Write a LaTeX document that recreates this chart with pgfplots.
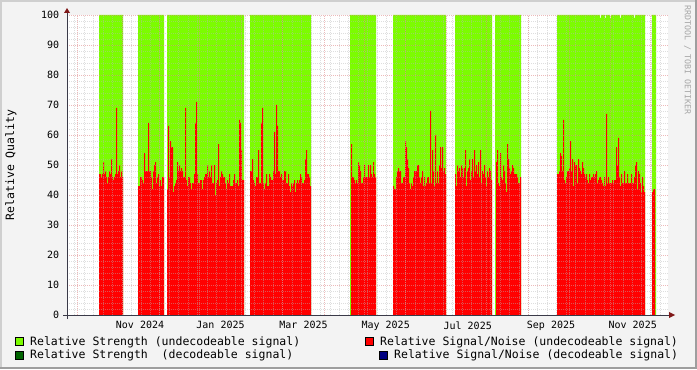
\documentclass[border=0pt]{standalone}
\usepackage{fontspec}
\setmainfont{DejaVu Sans Mono}
\usepackage{pgfplots}
\pgfplotsset{compat=1.18}
\definecolor{rrdgreen}{HTML}{7CFC00}
\definecolor{rrddkgreen}{HTML}{006400}
\definecolor{rrdred}{HTML}{FF0000}
\definecolor{rrdnavy}{HTML}{000080}
\definecolor{rrdback}{HTML}{F3F3F3}
\definecolor{shadea}{HTML}{CFCFCF}
\definecolor{shadeb}{HTML}{9E9E9E}
\definecolor{mgrid}{HTML}{E08C8C}
\definecolor{mingrid}{HTML}{B8B8B8}
\definecolor{axiscol}{HTML}{3A3A48}
\definecolor{arrowcol}{HTML}{801818}
\begin{document}
\begin{tikzpicture}[x=1bp,y=1bp]
\useasboundingbox (0,0) rectangle (697,369);
\fill[rrdback] (0,0) rectangle (697,369);
\fill[shadea] (0,367) rectangle (697,369);
\fill[shadea] (0,0) rectangle (2,369);
\fill[shadeb] (0,0) rectangle (697,2);
\fill[shadeb] (695,0) rectangle (697,369);
\begin{axis}[
  at={(67bp,54bp)}, anchor=south west, scale only axis,
  width=601bp, height=300bp,
  xmin=67, xmax=668, ymin=0, ymax=100,
  axis background/.style={fill=white},
  axis on top,
  axis line style={draw=none},
  xtick={140,220.5,303.5,385.7,467.7,551,632.7},
  xticklabels={Nov 2024,Jan 2025,Mar 2025,May 2025,Jul 2025,Sep 2025,Nov 2025},
  extra x ticks={77.3,122.3,159.3,199,241.3,282.3,324.7,364.3,405,446,486.7,528.3,569,610,650.7},
  extra x tick labels={},
  extra x tick style={grid=major},
  minor xtick={74.7,84.15,...,668},
  ytick={0,10,...,100},
  minor y tick num=4,
  ymajorgrids=true, xminorgrids=true, yminorgrids=true,
  major grid style={mgrid, opacity=0.6, line width=0.6bp, dash pattern=on 1bp off 1bp},
  minor grid style={mingrid, opacity=0.45, line width=0.6bp, dash pattern=on 1bp off 1bp},
  major tick length=0pt, minor tick length=0pt,
  tick label style={font=\fontsize{10bp}{12bp}\selectfont},
  /pgf/number format/assume math mode=true,
  xticklabel style={yshift=-3bp},
  yticklabel style={xshift=-4.4bp},
]
\addplot[const plot mark left, fill=rrdgreen, draw=none] coordinates {
(99,100)(123,0)(138,100)(164,0)(167,100)(244,0)(250,100)(311,0)(350,100)(376,0)(393,100)(446,0)(455,100)(492,0)(495,100)(521,0)(557,100)(600,99)(601,100)(605,99)(606,100)(610,99)(611,100)(620,99)(621,100)(634,99)(635,100)(645,0)(652,100)(656,0)
} \closedcycle;
\addplot[const plot mark left, fill=rrdred, draw=none] coordinates {
(99,47)(100,47)(101,46)(102,47)(103,51)(104,47)(105,48)(106,46)(107,44)(108,46)(109,48)(110,47)(111,52)(112,46)(113,45)(114,46)(115,47)(116,69)(117,47)(118,48)(119,50)(120,46)(121,48)(122,46)(123,0)
(138,43)(139,43)(140,46)(141,46)(142,45)(143,44)(144,54)(145,48)(146,48)(147,48)(148,64)(149,48)(150,48)(151,46)(152,42)(153,48)(154,50)(155,51)(156,44)(157,46)(158,47)(159,43)(160,45)(161,43)(162,46)(163,46)(164,0)
(167,42)(168,63)(169,46)(170,58)(171,56)(172,56)(173,41)(174,43)(175,44)(176,45)(177,51)(178,48)(179,50)(180,48)(181,49)(182,48)(183,46)(184,46)(185,69)(186,45)(187,43)(188,46)(189,46)(190,44)(191,42)(192,44)(193,44)(194,47)(195,64)(196,71)(197,47)(198,44)(199,44)(200,45)(201,45)(202,42)(203,45)(204,46)(205,47)(206,47)(207,50)(208,46)(209,48)(210,46)(211,50)(212,44)(213,44)(214,50)(215,40)(216,44)(217,45)(218,57)(219,43)(220,46)(221,48)(222,47)(223,46)(224,46)(225,44)(226,42)(227,45)(228,44)(229,47)(230,43)(231,43)(232,43)(233,45)(234,47)(235,44)(236,44)(237,45)(238,43)(239,65)(240,64)(241,55)(242,45)(243,45)(244,0)
(250,48)(251,48)(252,52)(253,45)(254,44)(255,43)(256,46)(257,46)(258,55)(259,44)(260,44)(261,64)(262,69)(263,44)(264,42)(265,44)(266,47)(267,43)(268,43)(269,47)(270,46)(271,45)(272,45)(273,48)(274,61)(275,47)(276,70)(277,63)(278,48)(279,48)(280,46)(281,47)(282,45)(283,45)(284,48)(285,48)(286,44)(287,44)(288,47)(289,43)(290,41)(291,44)(292,43)(293,44)(294,45)(295,41)(296,44)(297,45)(298,44)(299,45)(300,47)(301,46)(302,44)(303,44)(304,45)(305,52)(306,55)(307,47)(308,47)(309,46)(310,43)(311,0)
(351,57)(352,46)(353,46)(354,45)(355,44)(356,45)(357,44)(358,51)(359,50)(360,48)(361,44)(362,44)(363,46)(364,50)(365,46)(366,46)(367,46)(368,50)(369,46)(370,50)(371,47)(372,46)(373,51)(374,47)(375,46)(376,0)
(393,43)(394,42)(395,42)(396,46)(397,48)(398,49)(399,48)(400,48)(401,44)(402,44)(403,46)(404,46)(405,58)(406,56)(407,52)(408,49)(409,44)(410,42)(411,44)(412,43)(413,46)(414,48)(415,48)(416,48)(417,50)(418,50)(419,46)(420,44)(421,46)(422,48)(423,43)(424,46)(425,43)(426,44)(427,46)(428,46)(429,44)(430,68)(431,44)(432,55)(433,48)(434,43)(435,60)(436,44)(437,48)(438,44)(439,50)(440,56)(441,49)(442,56)(443,48)(444,49)(445,47)(446,0)
(455,47)(456,43)(457,50)(458,48)(459,49)(460,46)(461,50)(462,49)(463,46)(464,49)(465,55)(466,43)(467,48)(468,49)(469,52)(470,45)(471,48)(472,52)(473,46)(474,55)(475,48)(476,50)(477,47)(478,51)(479,46)(480,55)(481,44)(482,48)(483,47)(484,50)(485,46)(486,43)(487,48)(488,46)(489,49)(490,48)(491,45)(492,0)
(496,51)(497,55)(498,44)(499,43)(500,54)(501,46)(502,45)(503,50)(504,48)(505,44)(506,41)(507,57)(508,52)(509,49)(510,47)(511,48)(512,50)(513,49)(514,47)(515,47)(516,47)(517,46)(518,44)(519,44)(520,46)(521,0)
(557,47)(558,47)(559,48)(560,54)(561,53)(562,48)(563,65)(564,45)(565,44)(566,46)(567,48)(568,48)(569,49)(570,58)(571,48)(572,52)(573,43)(574,51)(575,50)(576,50)(577,44)(578,52)(579,49)(580,48)(581,47)(582,51)(583,49)(584,47)(585,46)(586,47)(587,45)(588,44)(589,47)(590,45)(591,46)(592,46)(593,47)(594,46)(595,47)(596,48)(597,44)(598,45)(599,46)(600,46)(601,45)(602,44)(603,43)(604,46)(605,43)(606,67)(607,44)(608,46)(609,44)(610,44)(611,44)(612,45)(613,44)(614,45)(615,45)(616,56)(617,50)(618,59)(619,46)(620,43)(621,47)(622,44)(623,44)(624,48)(625,44)(626,44)(627,47)(628,44)(629,44)(630,44)(631,47)(632,44)(633,44)(634,46)(635,50)(636,51)(637,42)(638,48)(639,47)(640,44)(641,41)(642,46)(643,43)(644,41)(645,0)
(652,41)(653,42)(654,42)(655,0)(656,0)
} \closedcycle;
\end{axis}
% axes with arrows
\draw[axiscol, line width=1bp] (63,54) -- (670,54);
\fill[arrowcol] (669,51) -- (675,54) -- (669,57) -- cycle;
\draw[axiscol, line width=1bp] (67,50) -- (67,357);
\fill[arrowcol] (64,356) -- (67,361) -- (70,356) -- cycle;
% axis title
\node[rotate=90, inner sep=0, font=\fontsize{11.5bp}{13bp}\selectfont] at (11,204) {Relative Quality};
% watermark
\node[rotate=-90, inner sep=0, text=black!35, font=\fontsize{8.3bp}{10bp}\selectfont] at (687.5,309) {RRDTOOL / TOBI OETIKER};
% legend
\filldraw[fill=rrdgreen, draw=black, line width=0.8bp] (15.5,23.5) rectangle (23.5,31.5);
\node[anchor=base west, inner sep=0, font=\fontsize{11.5bp}{13bp}\selectfont] at (30,23.6) {Relative Strength (undecodeable signal)};
\filldraw[fill=rrddkgreen, draw=black, line width=0.8bp] (15.5,10) rectangle (23.5,18);
\node[anchor=base west, inner sep=0, font=\fontsize{11.5bp}{13bp}\selectfont] at (30,10.1) {Relative Strength\ \ (decodeable signal)};
\filldraw[fill=rrdred, draw=black, line width=0.8bp] (365.5,23.5) rectangle (373.5,31.5);
\node[anchor=base west, inner sep=0, font=\fontsize{11.5bp}{13bp}\selectfont] at (380,23.6) {Relative Signal/Noise (undecodeable signal)};
\filldraw[fill=rrdnavy, draw=black, line width=0.8bp] (379.5,10) rectangle (387.5,18);
\node[anchor=base west, inner sep=0, font=\fontsize{11.5bp}{13bp}\selectfont] at (394,10.1) {Relative Signal/Noise (decodeable signal)};
\end{tikzpicture}
\end{document}
